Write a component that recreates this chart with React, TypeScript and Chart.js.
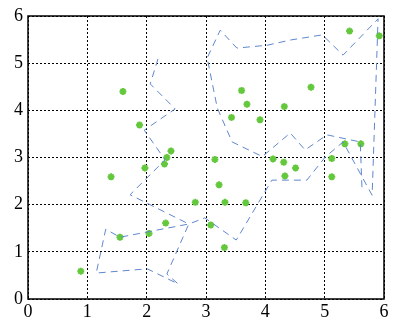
import React, { useEffect, useRef } from 'react';
import { Chart, registerables } from 'chart.js';

Chart.register(...registerables);

const tickLabels = ['0', '1', '2', '3', '4', '5', '6'];

const starX = [0.89, 1.40, 1.60, 1.55, 1.88, 1.97, 2.04, 2.30, 2.34, 2.41, 2.32, 2.82, 3.08, 3.15, 3.22, 3.31, 3.32, 3.43, 3.60, 3.69, 3.67, 3.91, 4.13, 4.31, 4.32, 4.33, 4.51, 4.77, 5.12, 5.12, 5.34, 5.61, 5.42, 5.92];
const starY = [0.59, 2.59, 4.40, 1.31, 3.69, 2.78, 1.39, 2.86, 3.00, 3.14, 1.61, 2.05, 1.57, 2.96, 2.42, 1.09, 2.05, 3.85, 4.42, 4.13, 2.04, 3.80, 2.97, 2.90, 4.08, 2.61, 2.78, 4.49, 2.98, 2.59, 3.29, 3.29, 5.68, 5.58];

const pathX = [2.19, 2.06, 2.48, 1.96, 2.31, 1.72, 2.71, 1.55, 1.31, 1.15, 2.01, 2.53, 2.34, 2.71, 2.98, 3.51, 4.11, 4.70, 5.01, 5.31, 5.80, 5.90, 5.31, 4.96, 4.42, 4.03, 3.52, 3.24, 3.02, 3.19, 3.44, 3.95, 4.42, 4.67, 5.04, 5.60, 5.63];
const pathY = [5.09, 4.56, 4.03, 3.58, 2.95, 2.21, 1.59, 1.31, 1.48, 0.55, 0.64, 0.32, 0.53, 1.59, 1.72, 1.25, 2.52, 2.52, 3.01, 3.33, 2.20, 5.94, 5.17, 5.60, 5.49, 5.38, 5.32, 5.70, 5.11, 4.05, 3.33, 3.02, 3.52, 3.16, 3.48, 3.33, 2.31];

const framePlugin = {
  id: 'frame',
  afterDatasetsDraw(chart: any) {
    const { ctx, chartArea } = chart;
    const { left, top, right, bottom } = chartArea;
    ctx.save();
    ctx.strokeStyle = '#000';
    ctx.lineWidth = 1.5;
    ctx.setLineDash([]);
    ctx.strokeRect(left, top, right - left, bottom - top);
    ctx.restore();
  },
};

export default function App() {
  const ref = useRef<HTMLCanvasElement | null>(null);

  useEffect(() => {
    if (!ref.current) return;
    const font = { family: "'Liberation Serif', 'DejaVu Serif', 'Times New Roman', serif", size: 18 };
    const chart = new Chart(ref.current, {
      type: 'scatter',
      data: {
        datasets: [
          {
            label: 'path',
            data: pathX.map((x, i) => ({ x, y: pathY[i] })),
            showLine: true,
            borderColor: 'rgb(95,135,205)',
            borderWidth: 1,
            borderDash: [7, 5],
            pointRadius: 0,
            tension: 0,
            fill: false,
          },
          {
            label: 'points',
            data: starX.map((x, i) => ({ x, y: starY[i] })),
            showLine: false,
            pointStyle: 'star',
            pointRadius: 3.5,
            borderWidth: 2,
            borderColor: 'rgb(100,200,60)',
            backgroundColor: 'rgb(100,200,60)',
          },
        ],
      },
      options: {
        animation: false,
        responsive: false,
        maintainAspectRatio: false,
        layout: { padding: { top: 16, right: 11, left: 0, bottom: 0 } },
        plugins: { legend: { display: false }, tooltip: { enabled: false } },
        scales: {
          x: {
            type: 'linear',
            min: 0,
            max: 6,
            afterFit: (s: any) => { s.height = 23; },
            afterBuildTicks: (s: any) => { s.ticks = tickLabels.map((t) => ({ value: Number(t) })); },
            ticks: {
              stepSize: 1,
              color: '#000',
              font,
              padding: 2,
              maxRotation: 0,
              callback: (v: any) => tickLabels[Number(v)] ?? '',
            },
            grid: { color: '#000', lineWidth: 1, drawTicks: false },
            border: { display: false, dash: [2, 2] },
          },
          y: {
            type: 'linear',
            min: 0,
            max: 6,
            afterFit: (s: any) => { s.width = 28; },
            afterBuildTicks: (s: any) => { s.ticks = tickLabels.map((t) => ({ value: Number(t) })); },
            ticks: {
              stepSize: 1,
              color: '#000',
              font,
              padding: 5,
              callback: (v: any) => tickLabels[Number(v)] ?? '',
            },
            grid: { color: '#000', lineWidth: 1, drawTicks: false },
            border: { display: false, dash: [2, 2] },
          },
        },
      },
      plugins: [framePlugin],
    });
    return () => chart.destroy();
  }, []);

  return (
    <div style={{ position: 'fixed', left: 0, top: 0, width: 395, height: 322, background: '#fff' }}>
      <canvas ref={ref} width={395} height={322} style={{ width: 395, height: 322 }} />
    </div>
  );
}
